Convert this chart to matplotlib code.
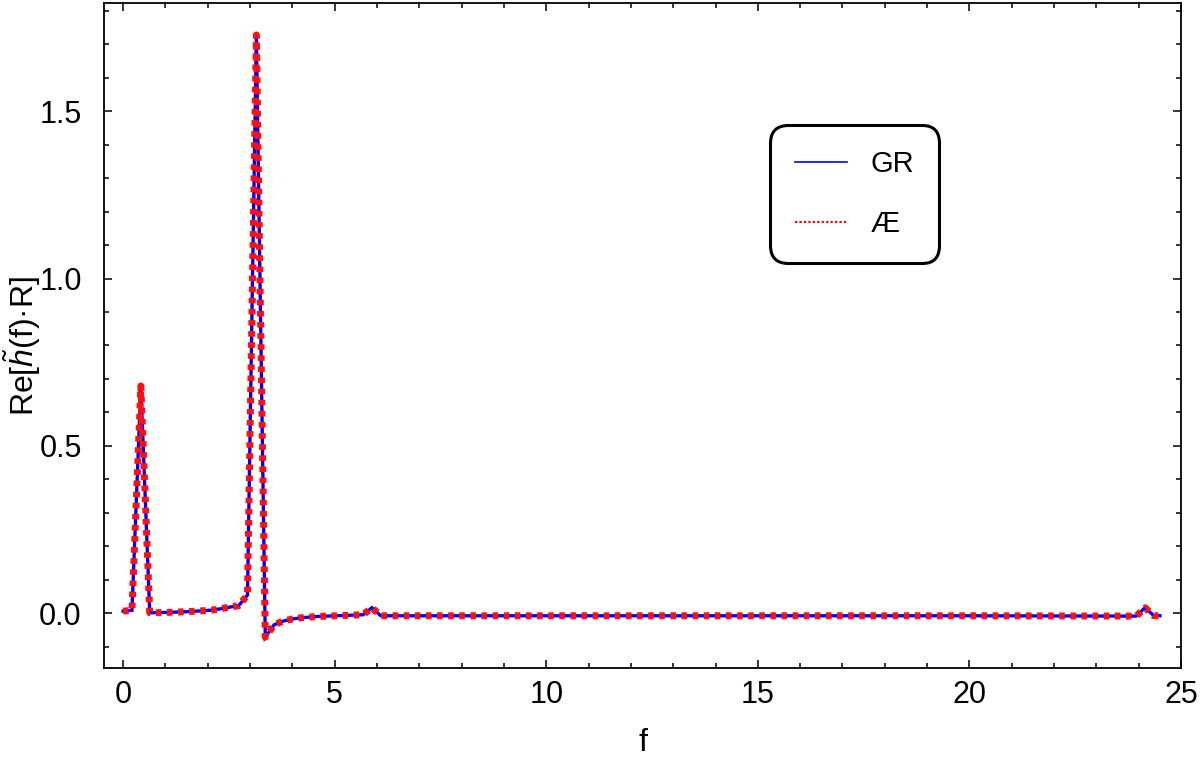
import numpy as np
import matplotlib.pyplot as plt
from matplotlib.lines import Line2D
from matplotlib.ticker import MultipleLocator

plt.rcParams['font.family'] = ['Liberation Sans', 'DejaVu Sans']
plt.rcParams['mathtext.fontset'] = 'custom'
plt.rcParams['mathtext.rm'] = 'Liberation Sans'
plt.rcParams['mathtext.it'] = 'Liberation Sans:italic'

# frequency samples (vertices of the curve)
f = [0.0, 0.21, 0.42, 0.63, 1.05, 1.47, 1.89, 2.10, 2.31, 2.52, 2.73, 2.94,
     3.15, 3.36, 3.57, 3.78, 3.99, 4.20, 4.62, 5.04, 5.46, 5.67, 5.88, 6.09,
     10.0, 15.0, 20.0, 23.94, 24.15, 24.36, 24.50]

re_gr = [0.006, 0.008, 0.679, 0.001, 0.002, 0.004, 0.007, 0.009, 0.013, 0.018, 0.022, 0.054,
         1.728, -0.072, -0.035, -0.024, -0.018, -0.014, -0.010, -0.008, -0.006, -0.005, 0.016, -0.008,
         -0.008, -0.008, -0.008, -0.009, 0.016, -0.008, -0.008]

re_ae = [0.006, 0.008, 0.679, 0.001, 0.002, 0.004, 0.007, 0.009, 0.013, 0.018, 0.022, 0.054,
         1.728, -0.072, -0.035, -0.024, -0.018, -0.014, -0.010, -0.008, -0.006, -0.005, 0.016, -0.008,
         -0.008, -0.008, -0.008, -0.009, 0.016, -0.008, -0.008]

fig = plt.figure(figsize=(12, 7.58), dpi=100)
ax = fig.add_axes([0.0867, 0.119, 0.8975, 0.8764])

ax.plot(f, re_gr, color='#0000ff', lw=2.4, solid_joinstyle='miter')
ax.plot(f, re_ae, color='#ff1010', lw=5.0, linestyle=(0, (0.8, 0.8)))

ax.set_xlim(-0.45, 25.0)
ax.set_ylim(-0.1635, 1.822)
ax.xaxis.set_major_locator(MultipleLocator(5))
ax.xaxis.set_minor_locator(MultipleLocator(1))
ax.yaxis.set_major_locator(MultipleLocator(0.5))
ax.yaxis.set_minor_locator(MultipleLocator(0.1))
ax.yaxis.set_major_formatter(lambda v, p: f"{v:.1f}")

ax.tick_params(which='both', direction='in', top=True, right=True, width=1.1)
ax.tick_params(which='major', length=6)
ax.tick_params(which='minor', length=3.5)
ax.tick_params(axis='x', which='major', labelsize=22, pad=9)
ax.tick_params(axis='y', which='major', labelsize=22, pad=16)
for s in ax.spines.values():
    s.set_linewidth(1.3)

ax.set_xlabel('f', fontsize=23, labelpad=13)
ax.set_ylabel(r'Re[$\tilde{h}$(f)·R]', fontsize=23, va='center')
ax.yaxis.set_label_coords(-0.0765, 0.485)

handles = [Line2D([], [], color='#0000ff', lw=1.2),
           Line2D([], [], color='#ff0000', lw=1.6, linestyle=(0, (1, 1)))]
leg = ax.legend(handles, ['GR', 'Æ'], loc='upper left',
                bbox_to_anchor=((770 - 104) / 1077, 1 - (125 - 3.5) / 664),
                fontsize=21, handlelength=1.8, handletextpad=0.8, labelspacing=1.1,
                borderpad=0.85, borderaxespad=0, fancybox=True, framealpha=1,
                edgecolor='black')
leg.get_frame().set_linewidth(2.2)
leg.get_frame().set_boxstyle('round', pad=0.0, rounding_size=0.6)

fig.savefig('out.png', dpi=100)
